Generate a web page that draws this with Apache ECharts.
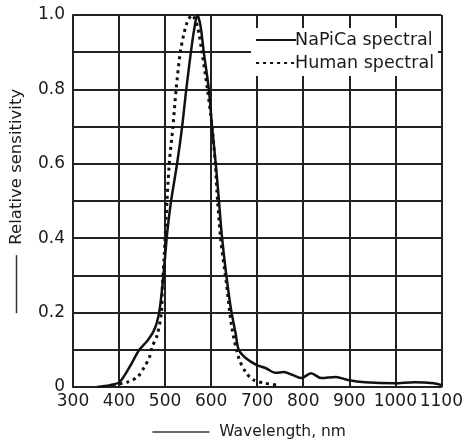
<!DOCTYPE html>
<html>
<head>
<meta charset="utf-8">
<script src="https://cdn.jsdelivr.net/npm/echarts@6/dist/echarts.min.js"></script>
<style>
html,body{margin:0;padding:0;background:#fff;}
#main{width:466px;height:445px;}
</style>
</head>
<body>
<div id="main"></div>
<script>
// NaPiCa spectral (wavelength nm, relative)
var napicaNm  = [352,380,401,423,444,462,477,487,494,500,505,513,526,537,546,556,563,570,577,584,595,602,610,617,623,632,643,653,660,675,699,718,740,757,778,796,817,839,871,897,934,998,1041,1084,1100];
var napicaVal = [0,0.005,0.013,0.054,0.10,0.125,0.155,0.20,0.27,0.35,0.42,0.50,0.60,0.70,0.80,0.90,0.96,1.0,0.97,0.90,0.80,0.70,0.60,0.50,0.41,0.31,0.21,0.145,0.10,0.078,0.059,0.051,0.038,0.04,0.032,0.024,0.037,0.024,0.027,0.019,0.013,0.01,0.013,0.01,0.005];
// Human spectral
var humanNm  = [386,418,440,455,466,472,483,492,494,498,502,509,517,524,533,541,548,558,570,580,592,602,609,614,621,633,645,660,675,692,718,742];
var humanVal = [0.005,0.013,0.027,0.054,0.08,0.108,0.14,0.2,0.27,0.35,0.45,0.6,0.7,0.8,0.9,0.95,0.98,1.0,0.97,0.9,0.8,0.7,0.6,0.5,0.395,0.28,0.16,0.078,0.04,0.019,0.01,0.005];
var seriesNames = ['NaPiCa spectral','Human spectral'];
var yTickLabels = ['0','','0.2','','0.4','','0.6','','0.8','','1.0'];

function pairs(xs, ys){
    var out = [];
    for(var i=0;i<xs.length;i++){ out.push([xs[i], ys[i]]); }
    return out;
}

var txt = '#1a1a1a';
var gridLine = {show:true, lineStyle:{color:'#222', width:2}};
var font = 'DejaVu Sans, sans-serif';

var myChart = echarts.init(document.getElementById('main'));
var option = {
    animation:false,
    grid:{left:73, right:22, top:15, bottom:58},
    legend:{
        orient:'vertical',
        right:28, top:28,
        backgroundColor:'#fff',
        padding:[3,4,4,4],
        itemWidth:40, itemHeight:14, itemGap:5,
        itemStyle:{opacity:0},
        textStyle:{color:txt, fontSize:17.5, fontFamily:font, padding:[0,0,0,-6]},
        data:seriesNames
    },
    xAxis:{
        type:'value', min:300, max:1100, interval:100,
        axisLine:{show:true, lineStyle:{color:'#222', width:2}},
        axisTick:{show:false},
        axisLabel:{color:txt, fontSize:17, fontFamily:font, margin:6,
            formatter:function(v){ return String(v); }},
        splitLine:gridLine,
        name:'{line|}  {t|Wavelength, nm}',
        nameLocation:'middle', nameGap:37,
        nameTextStyle:{color:txt, fontSize:15.5, fontFamily:font,
            rich:{line:{width:57, height:1.5, backgroundColor:'#333'},
                  t:{fontSize:15.5, fontFamily:font, color:txt, padding:[0,16,0,0]}}}
    },
    yAxis:{
        type:'value', min:0, max:1, interval:0.1,
        axisLine:{show:true, lineStyle:{color:'#222', width:2}},
        axisTick:{show:false},
        axisLabel:{color:txt, fontSize:17, fontFamily:font, margin:8,
            formatter:function(v){ return yTickLabels[Math.round(v*10)]; }},
        splitLine:gridLine,
        name:'{line|}  Relative sensitivity',
        nameLocation:'middle', nameGap:48,
        nameTextStyle:{color:txt, fontSize:16.5, fontFamily:font,
            rich:{line:{width:58, height:1.5, backgroundColor:'#333'}}}
    },
    series:[{
        name:seriesNames[0], type:'line', symbol:'none', smooth:0.3,
        lineStyle:{color:'#111', width:2.5},
        itemStyle:{color:'#111'},
        data:pairs(napicaNm, napicaVal), z:3
    },{
        name:seriesNames[1], type:'line', symbol:'none', smooth:0.3,
        lineStyle:{color:'#111', width:3, type:[3,4]},
        itemStyle:{color:'#111'},
        data:pairs(humanNm, humanVal), z:4
    }]
};
myChart.setOption(option);
</script>
</body>
</html>
